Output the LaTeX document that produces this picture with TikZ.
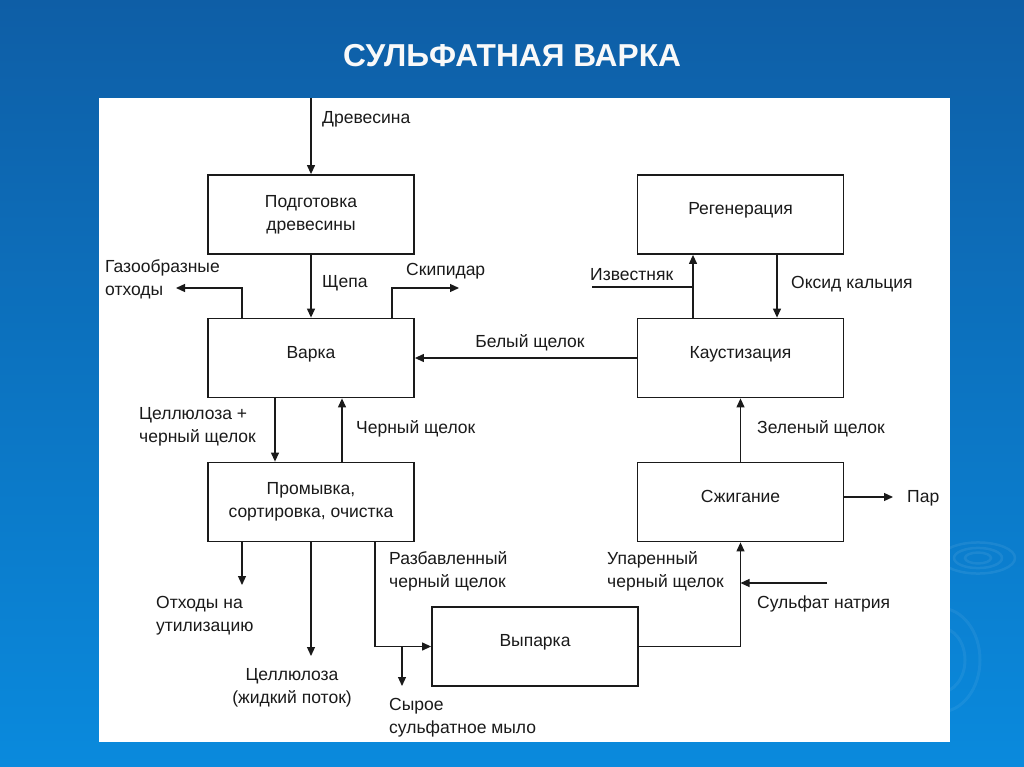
\documentclass[tikz,border=0pt]{standalone}
\usepackage{fontspec}
\setmainfont{Liberation Sans}
\usetikzlibrary{arrows.meta}
\definecolor{bgtop}{HTML}{0E5EA6}
\definecolor{bgbot}{HTML}{0A8ADD}
\definecolor{ink}{HTML}{1A1A1A}

\begin{document}
\begin{tikzpicture}[x=1pt, y=-1pt, flow/.style={-{Triangle[length=9pt,width=8pt]}, line width=1.2pt, draw=ink}, main box/.style={draw=ink, line width=1.8pt, minimum width=206pt, minimum height=79pt, inner sep=0pt, align=center, text=ink, font=\fontsize{17.5}{23}\selectfont}, one line/.style={text height=6pt, text depth=6pt}, lbl/.style={anchor=base west, inner sep=0pt, align=left, text=ink, font=\fontsize{17.5}{23}\selectfont}]

\useasboundingbox (0,0) rectangle (1024,767);
\shade[top color=bgtop, bottom color=bgbot] (0,0) rectangle (1024,767);
\foreach \r in {13,24,37}
  \draw[white, opacity=0.07, line width=2.5pt] (978,558) ellipse [x radius=\r pt, y radius=0.42*\r pt];
\foreach \r in {25,40}
  \draw[white, opacity=0.06, line width=3pt] (940,660) ellipse [x radius=\r pt, y radius=1.3*\r pt];
\fill[white] (99,98) rectangle (950,742);

\node[anchor=base, font=\fontsize{31.7}{36}\selectfont\bfseries, text=white!95!gray] (title) at (512,67) {СУЛЬФАТНАЯ ВАРКА};

\node[main box] (prep) at (311,214.5) {Подготовка\\древесины};
\node[main box, one line] (cook) at (311,358) {Варка};
\node[main box] (wash) at (311,502) {Промывка,\\сортировка, очистка};
\node[main box, one line] (evap) at (535,646.5) {Выпарка};
\node[main box, one line] (regen) at (740.5,214.5) {Регенерация};
\node[main box, one line] (caus) at (740.5,358) {Каустизация};
\node[main box, one line] (burn) at (740.5,502) {Сжигание};

\coordinate (wood) at (311,98);
\coordinate (gas) at (176,288);
\coordinate (tur) at (459,288);
\coordinate (waste) at (242,585);
\coordinate (pulp) at (311,656);
\coordinate (soap) at (402,686);
\coordinate (sulf) at (827,583);
\coordinate (steam) at (893,497);
\coordinate (lime) at (592,287);
\coordinate (lime in) at (693,287);

\draw[flow] (wood) -- (prep);
\draw[flow] (prep) -- (cook);
\draw[flow] ([xshift=-69pt]cook.north) |- (gas);
\draw[flow] ([xshift=81pt]cook.north) |- (tur);
\draw[flow] (caus) -- (cook);
\draw[flow] ([xshift=-36pt]cook.south) -- ([xshift=-36pt]wash.north);
\draw[flow] ([xshift=31pt]wash.north) -- ([xshift=31pt]cook.south);
\draw[flow] ([xshift=-69pt]wash.south) -- (waste);
\draw[flow] (wash) -- (pulp);
\draw[flow] ([xshift=64pt]wash.south) |- (evap);
\draw[flow] (evap.west -| soap) -- (soap);
\draw[flow] (evap) -| (burn);
\draw[flow] (sulf) -- (sulf -| burn.south);
\draw[flow] (burn) -- (caus);
\draw[flow] (burn.east |- steam) -- (steam);
\draw[flow] ([xshift=-47.5pt]caus.north) -- ([xshift=-47.5pt]regen.south);
\draw[line width=1.2pt, draw=ink] (lime) -- (lime in);
\draw[flow] ([xshift=36.5pt]regen.south) -- ([xshift=36.5pt]caus.north);

\node[lbl] (l wood) at (322,124) {Древесина};
\node[lbl] (l gas) at (105,295) {Газообразные\\отходы};
\node[lbl] (l chips) at (322,287) {Щепа};
\node[lbl] (l tur) at (406,275) {Скипидар};
\node[lbl, anchor=base] (l white) at (530,347) {Белый щелок};
\node[lbl] (l lime) at (590,280) {Известняк};
\node[lbl] (l oxide) at (791,288) {Оксид кальция};
\node[lbl] (l mix) at (139,442) {Целлюлоза +\\черный щелок};
\node[lbl] (l black) at (356,433) {Черный щелок};
\node[lbl] (l green) at (757,433) {Зеленый щелок};
\node[lbl] (l steam) at (907,502) {Пар};
\node[lbl] (l dilute) at (389,587) {Разбавленный\\черный щелок};
\node[lbl] (l strong) at (607,587) {Упаренный\\черный щелок};
\node[lbl] (l sulf) at (757,608) {Сульфат натрия};
\node[lbl] (l waste) at (156,631) {Отходы на\\утилизацию};
\node[lbl, anchor=base, align=center] (l pulp) at (292,703) {Целлюлоза\\(жидкий поток)};
\node[lbl] (l soap) at (389,733) {Сырое\\сульфатное мыло};

\end{tikzpicture}
\end{document}
